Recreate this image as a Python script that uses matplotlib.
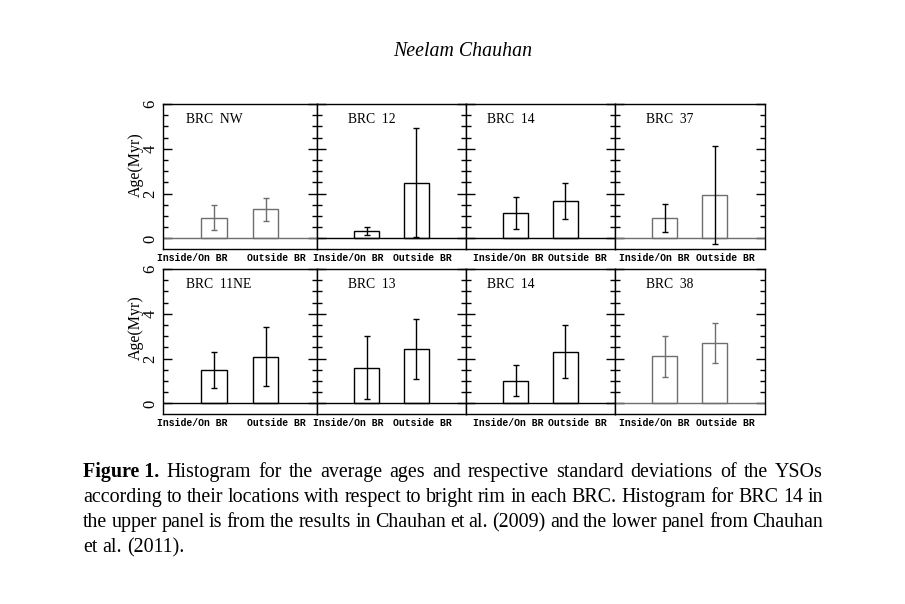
import matplotlib
matplotlib.use("Agg")
import matplotlib.pyplot as plt
from matplotlib.ticker import MultipleLocator

# values (Age in Myr)
top_names = ["BRC  NW", "BRC  12", "BRC  14", "BRC  37"]
top_inside = [0.93, 0.32, 1.12, 0.93]
top_inside_err = [0.57, 0.17, 0.71, 0.62]
top_outside = [1.30, 2.49, 1.69, 1.94]
top_outside_err = [0.52, 2.42, 0.80, 2.19]

bot_names = ["BRC  11NE", "BRC  13", "BRC  14", "BRC  38"]
bot_inside = [1.51, 1.60, 1.02, 2.10]
bot_inside_err = [0.80, 1.39, 0.70, 0.90]
bot_outside = [2.09, 2.44, 2.31, 2.71]
bot_outside_err = [1.30, 1.34, 1.19, 0.90]

cat_labels = ["Inside/On BR", "Outside BR"]

caption = [
    "Histogram for the average ages and respective standard deviations of the YSOs",
    "according to their locations with respect to bright rim in each BRC. Histogram for BRC 14 in",
    "the upper panel is from the results in Chauhan et al. (2009) and the lower panel from Chauhan",
    "et al. (2011).",
]

W, H = 905, 604
fig = plt.figure(figsize=(W / 100, H / 100), dpi=100)

grey = "#6e6e6e"
# (bar colour, errorbar colour) for each panel
top_cols = [(grey, grey), ("black", "black"), ("black", "black"), (grey, "black")]
bot_cols = [("black", "black"), ("black", "black"), ("black", "black"), (grey, grey)]

xedges = [162.5, 317, 466, 615, 764.5]
rows = [(104, 249), (269, 414)]
lab_pos = [(0.19, 0.735), (0.21, 0.71), (0.285, 0.75), (0.26, 0.74)]
name_x = [0.153, 0.206, 0.139, 0.205]

mono = dict(family="Liberation Mono", fontsize=7.0, fontweight="bold")

data = [
    (top_names, top_inside, top_inside_err, top_outside, top_outside_err, top_cols),
    (bot_names, bot_inside, bot_inside_err, bot_outside, bot_outside_err, bot_cols),
]

for r, (names, ins, ins_e, outs, outs_e, cols) in enumerate(data):
    y0, y1 = rows[r]
    for c in range(4):
        ax = fig.add_axes([xedges[c] / W, 1 - y1 / H,
                           (xedges[c + 1] - xedges[c]) / W, (y1 - y0) / H])
        bc, ec = cols[c]
        ax.axhline(0, color=bc, lw=1.0)
        ax.bar([1, 2], [ins[c], outs[c]], width=0.5, fill=False,
               edgecolor=bc, linewidth=1.0)
        ax.errorbar([1, 2], [ins[c], outs[c]], yerr=[ins_e[c], outs_e[c]],
                    fmt="none", ecolor=ec, elinewidth=1.0, capsize=2, capthick=1.0)
        ax.set_xlim(0, 3)
        ax.set_ylim(-0.47, 6)
        ax.set_xticks([])
        ax.yaxis.set_major_locator(MultipleLocator(2))
        ax.yaxis.set_minor_locator(MultipleLocator(0.5))
        ax.tick_params(axis="y", which="both", direction="in", left=True, right=True,
                       width=1.0)
        ax.tick_params(axis="y", which="major", length=6.5)
        ax.tick_params(axis="y", which="minor", length=3.3)
        for s in ax.spines.values():
            s.set_linewidth(1.0)
        if c == 0:
            ax.tick_params(axis="y", labelleft=True, labelrotation=90, pad=3,
                           labelsize=12)
            for t in ax.get_yticklabels():
                t.set_family("Liberation Serif")
                t.set_va("center")
        else:
            ax.tick_params(axis="y", labelleft=False)
        ax.text(name_x[c], 0.89, names[c], transform=ax.transAxes,
                family="Liberation Serif", fontsize=9.8, va="center", ha="left")
        for k in range(2):
            ax.text(lab_pos[c][k], -0.065, cat_labels[k], transform=ax.transAxes,
                    ha="center", va="center", **mono)

fig.text(136 / W, 1 - 165 / H, "Age(Myr)", rotation=90, ha="center", va="center",
         family="Liberation Serif", fontsize=11.5)
fig.text(136 / W, 1 - 328 / H, "Age(Myr)", rotation=90, ha="center", va="center",
         family="Liberation Serif", fontsize=11.5)

fig.text(463 / W, 1 - 52 / H, "Neelam Chauhan", ha="center", va="center",
         family="Liberation Serif", style="italic", fontsize=14.3)

# justified caption, word by word on a common baseline
renderer = fig.canvas.get_renderer()
x_left, x_right = 83, 823
line_base = [477, 502, 527, 552]
cap_font = dict(family="Liberation Serif", fontsize=14.4)
space_w = (fig.text(0, 0, "a a", **cap_font).get_window_extent(renderer).width
           - 2 * fig.text(0, 0, "a", **cap_font).get_window_extent(renderer).width)
for t in fig.texts[-2:]:
    t.remove()
for i, line in enumerate(caption):
    items = [(w, "normal") for w in line.split(" ")]
    if i == 0:
        items = [("Figure 1.", "bold")] + items
    texts = []
    for w, wt in items:
        t = fig.text(0, 1 - line_base[i] / H, w, va="baseline", ha="left",
                     fontweight=wt, **cap_font)
        texts.append(t)
    widths = [t.get_window_extent(renderer).width for t in texts]
    if i < len(caption) - 1:
        gap = (x_right - x_left - sum(widths)) / (len(texts) - 1)
    else:
        gap = space_w
    x = x_left
    for t, w in zip(texts, widths):
        t.set_x(x / W)
        x += w + gap

fig.savefig("out.png", dpi=100)
